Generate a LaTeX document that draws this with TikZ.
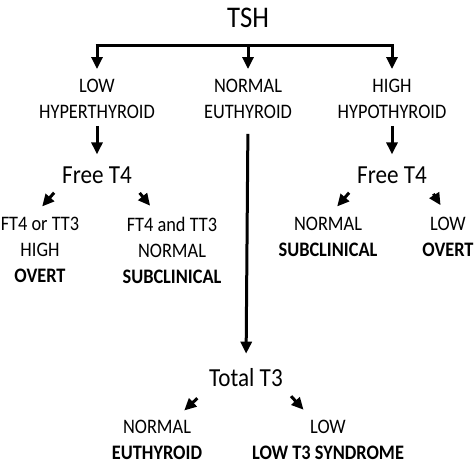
\documentclass[tikz,border=0pt]{standalone}
\usepackage{fontspec}
\setmainfont{Carlito}[FakeStretch=0.89]
\usetikzlibrary{arrows.meta}

\begin{document}
\begin{tikzpicture}[x=1pt,y=-1pt,
    lbl/.style={inner sep=0pt,align=center,font=\fontsize{20.6}{26}\selectfont},
    big/.style={inner sep=0pt,font=\fontsize{26}{28}\selectfont},
    arr/.style={line width=3pt,-{Triangle[length=12pt,width=11pt]}},
    ptr/.style={arr,shorten <=12pt,shorten >=14pt}]
      \useasboundingbox (0,0) rectangle (474,467);
      \node[inner sep=0pt,font=\fontsize{30}{32}\selectfont] (tsh) at (248,18) {TSH};
      \node[lbl] (low) at (97,99) {LOW\\HYPERTHYROID};
      \node[lbl] (norm) at (248,99) {NORMAL\\EUTHYROID};
      \node[lbl] (high) at (392,99) {HIGH\\HYPOTHYROID};
      \node[big] (freeL) at (97,175) {Free T4};
      \node[big] (freeR) at (392,175) {Free T4};
      \node[lbl] (ovL) at (40,250) {FT4 or TT3\\HIGH\\\textbf{OVERT}};
      \node[lbl] (subL) at (172,250) {FT4 and TT3\\NORMAL\\\textbf{SUBCLINICAL}};
      \node[lbl] (subR) at (328,237) {NORMAL\\\textbf{SUBCLINICAL}};
      \node[lbl] (ovR) at (448,237) {LOW\\\textbf{OVERT}};
      \node[big] (tot) at (246,378) {Total T3};
      \node[lbl] (euth) at (157,440) {NORMAL\\\textbf{EUTHYROID}};
      \node[lbl] (lowt3) at (328,440) {LOW\\\textbf{LOW T3 SYNDROME}};
      \coordinate (bar) at (248,45);
      \draw[line width=3pt,shorten <=-1.5pt,shorten >=-1.5pt] (low|-bar) -- (high|-bar);
      \foreach \n in {low,norm,high}
        \draw[arr,shorten >=10pt] (\n|-bar) -- (\n.north);
      \draw[arr,shorten <=7pt,shorten >=12pt] (low.south) -- (freeL.north);
      \draw[arr,shorten <=7pt,shorten >=12pt] (high.south) -- (freeR.north);
      \draw[arr,shorten <=15pt,shorten >=15pt] (norm.south) -- (tot.north);
      \draw[ptr] (freeL.south west) -- ([xshift=-7pt]ovL.north);
      \draw[ptr] (freeL.south east) -- ([xshift=-13pt]subL.north);
      \draw[ptr] (freeR.south west) -- (subR.north);
      \draw[ptr] (freeR.south east) -- (ovR.north);
      \draw[ptr,shorten <=16pt] (tot.south west) -- ([xshift=17pt]euth.north);
      \draw[ptr] (tot.south east) -- ([xshift=-15pt]lowt3.north);
\end{tikzpicture}
\end{document}
